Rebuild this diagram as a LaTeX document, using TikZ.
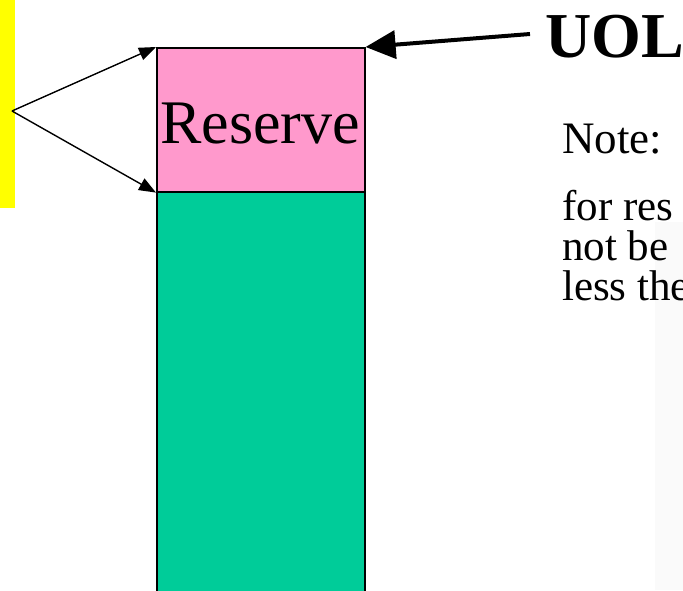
\documentclass[tikz,border=0pt]{standalone}
\usepackage{fontspec}
\setmainfont{Liberation Serif}
\usetikzlibrary{arrows.meta}
\definecolor{pinkres}{HTML}{FF99CC}
\definecolor{greenbox}{HTML}{00CC99}
\definecolor{barY}{HTML}{FFFF00}
\begin{document}
\begin{tikzpicture}[x=1pt,y=-1pt,
  colbox/.style={draw=black, line width=1.6pt, inner sep=0pt, anchor=north west, minimum width=208pt},
  notetxt/.style={anchor=base west, inner sep=0pt, font=\fontsize{43}{43}\selectfont},
  thinarrow/.style={line width=1.4pt, -{Triangle[length=17pt,width=13pt]}},
  thickarrow/.style={line width=4pt, -{Triangle[length=30pt,width=28pt]}}]
\useasboundingbox (0,0) rectangle (683,590);
\clip (0,0) rectangle (683,590);
\fill[white] (0,0) rectangle (683,590);
\fill[black!2] (655,222) rectangle (683,590);
\node[fill=barY, inner sep=0pt, anchor=north west, minimum width=15pt, minimum height=208pt] (bar) at (0,0) {};
\node[colbox, fill=greenbox, minimum height=430pt] (stock) at (156,191) {};
\node[colbox, fill=pinkres, minimum height=144pt] (reserve) at (156,47) {};
\node[anchor=base, inner sep=0pt, font=\fontsize{62}{62}\selectfont] (reservetxt) at (260,143) {Reserve};
\coordinate (fork) at (12,111);
\draw[thinarrow] (fork) -- (reserve.north west);
\draw[thinarrow] (fork) -- (reserve.south west);
\node[anchor=base west, inner xsep=15pt, inner ysep=0pt, font=\fontsize{64}{64}\selectfont\bfseries] (uol) at (530,57) {UOL};
\draw[thickarrow] ([yshift=23pt]uol.base west) -- (reserve.north east);
\node[notetxt, font=\fontsize{45}{45}\selectfont] (note1) at (562,153) {Note:};
\node[notetxt] (note2) at (562,220) {for res};
\node[notetxt] (note3) at (562,260) {not be};
\node[notetxt] (note4) at (562,300) {less the};
\end{tikzpicture}
\end{document}
